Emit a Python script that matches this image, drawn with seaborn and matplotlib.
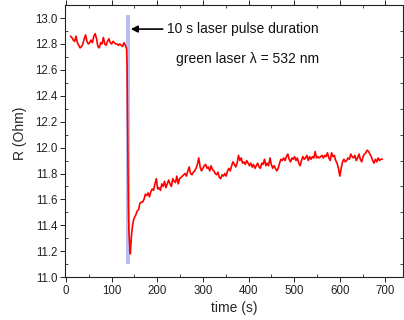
import numpy as np
import pandas as pd
import matplotlib
matplotlib.use("Agg")
import matplotlib.pyplot as plt
import seaborn as sns
from matplotlib.ticker import MultipleLocator

# ---- data ----
time_pre = [10, 13, 16, 19, 22, 25, 28, 31, 34, 37, 40, 43, 46, 49, 52, 55, 58, 61, 64, 67,
            70, 73, 76, 79, 82, 85, 88, 91, 94, 97, 100, 103, 106, 109, 112, 115, 118, 121,
            124, 127, 130, 133]
r_pre = [12.86, 12.85, 12.83, 12.82, 12.86, 12.81, 12.79, 12.77, 12.78, 12.80, 12.84, 12.87,
         12.82, 12.80, 12.81, 12.83, 12.81, 12.86, 12.88, 12.84, 12.78, 12.77, 12.81, 12.80,
         12.85, 12.80, 12.79, 12.82, 12.84, 12.81, 12.80, 12.82, 12.81, 12.80, 12.80, 12.79,
         12.80, 12.79, 12.78, 12.81, 12.79, 12.76]

time_drop = [134, 135, 136, 137, 138, 139, 140, 141, 142, 144, 146, 148]
r_drop = [12.60, 12.20, 11.80, 11.50, 11.35, 11.28, 11.22, 11.18, 11.24, 11.34, 11.40, 11.44]

time_post = [150, 153, 156, 159, 162, 165, 168, 171, 174, 177, 180, 183, 186, 189, 192, 195,
             198, 201, 204, 207, 210, 213, 216, 219, 222, 225, 228, 231, 234, 237, 240, 243,
             246, 249, 252, 255, 258, 261, 264, 267, 270, 273, 276, 279, 282, 285, 288, 291,
             294, 297, 300, 303, 306, 309, 312, 315, 318, 321, 324, 327, 330, 333, 336, 339,
             342, 345, 348, 351, 354, 357, 360, 363, 366, 369, 372, 375, 378, 381, 384, 387,
             390, 393, 396, 399, 402, 405, 408, 411, 414, 417, 420, 423, 426, 429, 432, 435,
             438, 441, 444, 447, 450, 453, 456, 459, 462, 465, 468, 471, 474, 477, 480, 483,
             486, 489, 492, 495, 498, 501, 504, 507, 510, 513, 516, 519, 522, 525, 528, 531,
             534, 537, 540, 543, 546, 549, 552, 555, 558, 561, 564, 567, 570, 573, 576, 579,
             582, 585, 588, 591, 594, 597, 600, 603, 606, 609, 612, 615, 618, 621, 624, 627,
             630, 633, 636, 639, 642, 645, 648, 651, 654, 657, 660, 663, 666, 669, 672, 675,
             678, 681, 684, 687, 690, 693]
r_post = [11.46, 11.48, 11.51, 11.52, 11.57, 11.58, 11.58, 11.60, 11.64, 11.63, 11.65, 11.62,
          11.66, 11.68, 11.67, 11.72, 11.76, 11.68, 11.69, 11.67, 11.72, 11.70, 11.74, 11.69,
          11.72, 11.75, 11.72, 11.70, 11.76, 11.74, 11.73, 11.78, 11.72, 11.76, 11.77, 11.78,
          11.79, 11.80, 11.78, 11.82, 11.85, 11.80, 11.79, 11.81, 11.82, 11.84, 11.87, 11.92,
          11.85, 11.82, 11.84, 11.86, 11.87, 11.84, 11.85, 11.82, 11.86, 11.83, 11.82, 11.80,
          11.79, 11.81, 11.77, 11.76, 11.79, 11.78, 11.80, 11.78, 11.82, 11.84, 11.82, 11.86,
          11.89, 11.87, 11.85, 11.88, 11.94, 11.90, 11.92, 11.88, 11.89, 11.87, 11.90, 11.88,
          11.86, 11.88, 11.85, 11.87, 11.84, 11.86, 11.88, 11.85, 11.84, 11.88, 11.87, 11.91,
          11.86, 11.88, 11.86, 11.92, 11.87, 11.84, 11.86, 11.84, 11.82, 11.84, 11.88, 11.91,
          11.90, 11.92, 11.90, 11.93, 11.95, 11.91, 11.89, 11.92, 11.91, 11.93, 11.90, 11.92,
          11.88, 11.86, 11.90, 11.93, 11.91, 11.92, 11.94, 11.90, 11.93, 11.91, 11.93, 11.92,
          11.97, 11.92, 11.93, 11.92, 11.93, 11.94, 11.92, 11.94, 11.93, 11.96, 11.92, 11.90,
          11.96, 11.93, 11.94, 11.90, 11.88, 11.84, 11.78, 11.84, 11.89, 11.91, 11.89, 11.90,
          11.92, 11.91, 11.95, 11.93, 11.92, 11.94, 11.90, 11.92, 11.95, 11.91, 11.89, 11.93,
          11.95, 11.96, 11.98, 11.97, 11.95, 11.93, 11.90, 11.88, 11.91, 11.89, 11.92, 11.90,
          11.91, 11.91]

pulse_start, pulse_end = 131, 141
label_text = "10 s laser pulse duration"
laser_text = "green laser \u03bb = 532 nm"

df = pd.DataFrame({"time": time_pre + time_drop + time_post,
                   "R": r_pre + r_drop + r_post})

sns.set_theme(style="ticks")
plt.rcParams["font.family"] = ["Liberation Sans", "DejaVu Sans"]

fig = plt.figure(figsize=(4.04, 3.2), dpi=100)
ax = fig.add_axes([0.161, 0.134, 0.836, 0.850])

ax.fill_between([pulse_start, pulse_end], 11.1, 13.02, color="#b8bff0", lw=0, zorder=1)
sns.lineplot(data=df, x="time", y="R", color="#ff0000", lw=1.2, ax=ax, zorder=3,
             estimator=None, sort=False)

ax.set_xlim(-2, 738)
ax.set_ylim(11.0, 13.1)
ax.xaxis.set_major_locator(MultipleLocator(100))
ax.xaxis.set_minor_locator(MultipleLocator(50))
ax.yaxis.set_major_locator(MultipleLocator(0.2))
ax.yaxis.set_minor_locator(MultipleLocator(0.1))
ax.yaxis.set_major_formatter(matplotlib.ticker.FormatStrFormatter("%.1f"))

for s in ax.spines.values():
    s.set_visible(True)
    s.set_linewidth(0.8)
    s.set_color("#222222")

ax.tick_params(which="major", direction="out", length=3.5, width=0.7, labelsize=8.3,
               colors="#222222", pad=2)
ax.tick_params(which="minor", direction="in", length=2, width=0.6)
ax.tick_params(which="both", top=True, right=True)

ax.set_xlabel("time (s)", fontsize=10, labelpad=3)
ax.set_ylabel("R (Ohm)", fontsize=10)
ax.yaxis.set_label_coords(-0.112, 0.53)

ax.annotate("", xy=(142, 12.915), xytext=(212, 12.915),
            arrowprops=dict(arrowstyle="-|>", color="black", lw=1.2,
                            mutation_scale=10, shrinkA=0, shrinkB=0))
ax.text(222, 12.915, label_text, fontsize=10, va="center", ha="left", color="#111111")
ax.text(241, 12.685, laser_text, fontsize=10, va="center", ha="left", color="#111111")

fig.savefig("out.png", dpi=100)
